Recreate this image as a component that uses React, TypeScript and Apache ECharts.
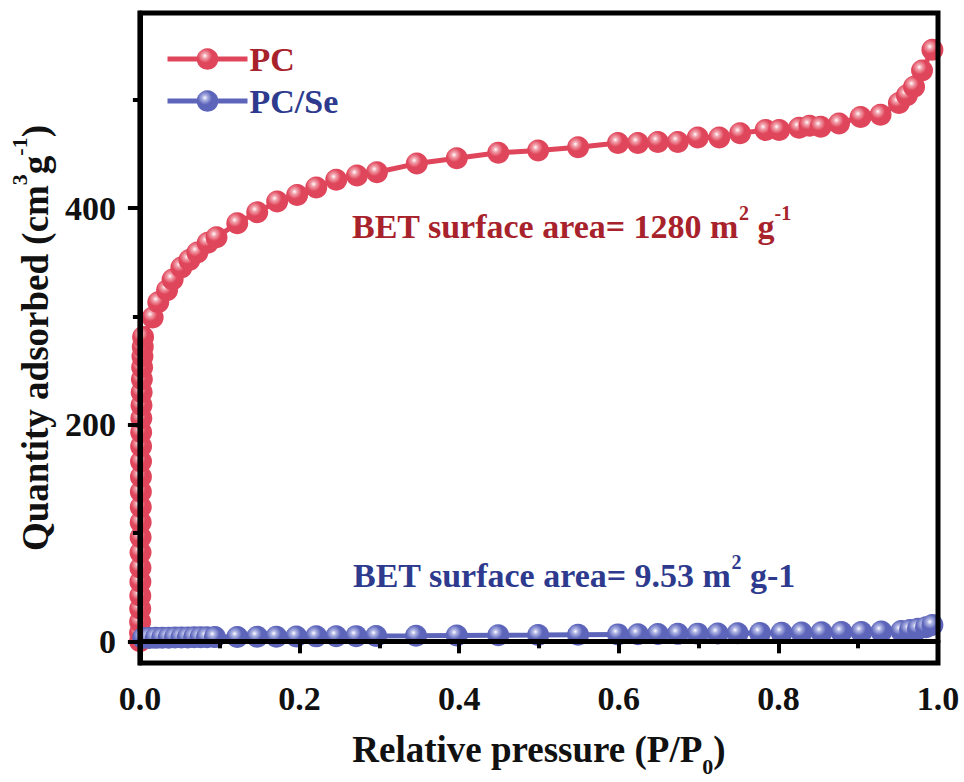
import React, { useEffect, useRef } from "react";
import * as echarts from "echarts";

// Relative pressure (P/P0) and quantity adsorbed (cm3 g-1)
const pcX = [
  0.0001, 0.0002, 0.0003, 0.0004, 0.0005, 0.0006, 0.0007, 0.0008, 0.0009, 0.001, 0.0011, 0.0012, 0.0013,
  0.0014, 0.0015, 0.0016, 0.0018, 0.002, 0.0022, 0.0025, 0.0028, 0.0032, 0.0036, 0.004,
  0.016, 0.023, 0.034, 0.041, 0.052, 0.062, 0.072, 0.085, 0.096, 0.122, 0.147, 0.172, 0.197, 0.221, 0.246,
  0.272, 0.297, 0.347, 0.397, 0.449, 0.499, 0.549, 0.599, 0.624, 0.649, 0.674, 0.699, 0.726, 0.752, 0.784,
  0.801, 0.826, 0.839, 0.853, 0.876, 0.903, 0.928, 0.951, 0.961, 0.97, 0.98, 0.993,
];
const pcY = [
  0, 8, 18, 30, 42, 55, 68, 82, 96, 110, 124, 138, 152,
  166, 180, 193, 206, 218, 230, 242, 253, 263, 272, 281,
  299, 313, 324, 334, 345, 352, 359, 368, 373, 386, 396, 406, 412, 419, 426,
  430, 433, 441, 446, 451, 453, 456, 460, 460, 461, 461, 465, 465, 469, 472,
  472, 474, 476, 475, 478, 484, 486, 497, 504, 512, 527, 546,
];
const seX = [
  0.004, 0.012, 0.02, 0.028, 0.036, 0.044, 0.052, 0.06, 0.068, 0.076, 0.084, 0.094,
  0.122, 0.147, 0.171, 0.196, 0.221, 0.246, 0.271, 0.296, 0.346, 0.397, 0.449, 0.499, 0.549, 0.599,
  0.624, 0.649, 0.674, 0.699, 0.724, 0.749, 0.777, 0.804, 0.829, 0.854, 0.879, 0.904, 0.929, 0.954,
  0.965, 0.975, 0.985, 0.993,
];
const seY = [
  3, 3.1, 3.2, 3.3, 3.4, 3.5, 3.5, 3.6, 3.7, 3.7, 3.8, 3.9,
  4, 4.2, 4.3, 4.5, 4.6, 4.7, 4.8, 4.9, 5.1, 5.4, 5.6, 5.8, 6.1, 6.4,
  6.5, 6.7, 6.9, 7.1, 7.3, 7.5, 7.7, 7.9, 8.1, 8.3, 8.5, 8.7, 9, 9.5,
  10.5, 11.5, 13, 15,
];

const seriesNames = ["PC", "PC/Se"];
const xTickValues = [0, 0.2, 0.4, 0.6, 0.8, 1.0];
const yMajorTicks = [0, 200, 400];
const yMinorTicks = [100, 300, 500];
const annotationPC = ["BET surface area= 1280 m", "2", " g", "-1"];
const annotationSe = ["BET surface area= 9.53 m", "2", " g-1"];

const FONT = "'Liberation Serif', 'Times New Roman', serif";
const RED = "#e0465b";
const BLUE = "#5c65ba";
const RED_TEXT = "#a8222c";
const BLUE_TEXT = "#2d3a8e";

const ball = (base: string, mid: string) => ({
  type: "radial",
  x: 0.38,
  y: 0.35,
  r: 0.65,
  colorStops: [
    { offset: 0, color: "#ffffff" },
    { offset: 0.18, color: mid },
    { offset: 0.5, color: base },
    { offset: 1, color: base },
  ],
});

export default function App() {
  const ref = useRef<HTMLDivElement>(null);
  useEffect(() => {
    document.body.style.margin = "0";
    const chart = echarts.init(ref.current!, undefined, { renderer: "svg" });
    const pcData = pcX.map((x, i) => [x, pcY[i]]);
    const seData = seX.map((x, i) => [x, seY[i]]);
    const supRich = (color: string) => ({
      a: { fill: color, fontSize: 34, fontWeight: "bold", fontFamily: FONT, lineHeight: 40, verticalAlign: "bottom" },
      s: { fill: color, fontSize: 20, fontWeight: "bold", fontFamily: FONT, lineHeight: 40, verticalAlign: "top" },
    });
    chart.setOption({
      animation: false,
      backgroundColor: "#ffffff",
      grid: {
        left: 135,
        right: 26,
        top: 13,
        bottom: 119,
        show: true,
        borderColor: "#000",
        borderWidth: 5,
        zlevel: 1,
        z: 10,
      },
      legend: {
        orient: "vertical",
        left: 160,
        top: 37,
        itemWidth: 80,
        itemHeight: 27,
        itemGap: 8,
        lineStyle: { width: 5 },
        textStyle: { fontSize: 34, fontWeight: "bold", fontFamily: FONT, lineHeight: 34, padding: [0, 0, 0, -3] },
        data: [
          { name: seriesNames[0], textStyle: { color: RED_TEXT } },
          { name: seriesNames[1], textStyle: { color: BLUE_TEXT } },
        ],
      },
      xAxis: {
        type: "value",
        min: 0,
        max: 1,
        interval: 0.2,
        zlevel: 1,
        z: 10,
        name: "{a|Relative pressure (P/P}{sub|0}{a|)}",
        nameLocation: "middle",
        nameGap: 68,
        nameTextStyle: {
          rich: {
            a: { fontSize: 37, fontWeight: "bold", fontFamily: FONT, color: "#111", lineHeight: 46, verticalAlign: "top" },
            sub: { fontSize: 22, fontWeight: "bold", fontFamily: FONT, color: "#111", lineHeight: 46, verticalAlign: "bottom" },
          },
        },
        axisLine: { lineStyle: { color: "#000", width: 5 } },
        axisTick: { length: 12, lineStyle: { width: 4, color: "#000" } },
        minorTick: { show: true, splitNumber: 2, length: 7, lineStyle: { width: 4, color: "#000" } },
        splitLine: { show: false },
        axisLabel: {
          margin: 18,
          fontSize: 34,
          fontWeight: "bold",
          fontFamily: FONT,
          color: "#111",
          customValues: xTickValues,
          formatter: (v: number) => v.toFixed(1),
        },
      },
      yAxis: [
        {
          type: "value",
          min: -20,
          max: 580,
          position: "left",
          zlevel: 1,
          z: 10,
          name: "{a|Quantity adsorbed (cm}{sup|3}{a|g}{sup|-1}{a|)}",
          nameLocation: "middle",
          nameGap: 82,
          nameRotate: 90,
          nameTextStyle: {
            rich: {
              a: { fontSize: 37, fontWeight: "bold", fontFamily: FONT, color: "#111", lineHeight: 46, verticalAlign: "bottom" },
              sup: { fontSize: 22, fontWeight: "bold", fontFamily: FONT, color: "#111", lineHeight: 46, verticalAlign: "top" },
            },
          },
          axisLine: { show: true, lineStyle: { color: "#000", width: 5 } },
          axisTick: { show: true, length: 12, customValues: yMajorTicks, lineStyle: { width: 4, color: "#000" } },
          splitLine: { show: false },
          axisLabel: {
            margin: 24,
            fontSize: 34,
            fontWeight: "bold",
            fontFamily: FONT,
            color: "#111",
            customValues: yMajorTicks,
          },
        },
        {
          type: "value",
          min: -20,
          max: 580,
          position: "left",
          zlevel: 1,
          z: 10,
          axisLine: { show: false },
          axisTick: { show: true, length: 7, customValues: yMinorTicks, lineStyle: { width: 4, color: "#000" } },
          axisLabel: { show: false },
          splitLine: { show: false },
        },
      ],
      graphic: [
        {
          type: "text",
          left: 352,
          top: 203,
          z: 20,
          style: {
            text: `{a|${annotationPC[0]}}{s|${annotationPC[1]}}{a|${annotationPC[2]}}{s|${annotationPC[3]}}`,
            rich: supRich(RED_TEXT),
            fill: RED_TEXT,
          },
        },
        {
          type: "text",
          left: 353,
          top: 552,
          z: 20,
          style: {
            text: `{a|${annotationSe[0]}}{s|${annotationSe[1]}}{a|${annotationSe[2]}}`,
            rich: supRich(BLUE_TEXT),
            fill: BLUE_TEXT,
          },
        },
      ],
      series: [
        {
          name: seriesNames[0],
          type: "line",
          data: pcData,
          symbol: "circle",
          symbolSize: 22,
          yAxisIndex: 0,
          lineStyle: { color: RED, width: 5 },
          itemStyle: { color: ball(RED, "#f2a3ad") },
          z: 2,
        },
        {
          name: seriesNames[1],
          type: "line",
          data: seData,
          symbol: "circle",
          symbolSize: 22,
          yAxisIndex: 0,
          lineStyle: { color: BLUE, width: 5 },
          itemStyle: { color: ball(BLUE, "#aeb4e4") },
          z: 3,
        },
      ],
    });
    return () => chart.dispose();
  }, []);
  return <div ref={ref} style={{ width: 964, height: 782 }} />;
}
